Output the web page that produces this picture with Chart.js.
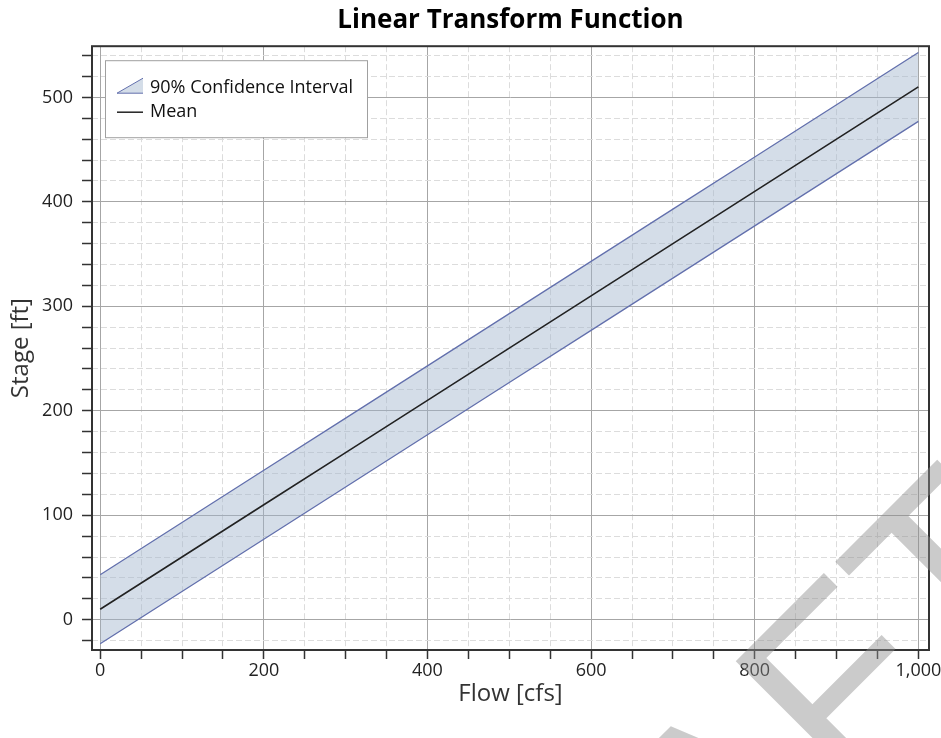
<!DOCTYPE html>
<html>
<head>
<meta charset="utf-8">
<title>Linear Transform Function</title>
<script src="https://cdn.jsdelivr.net/npm/chart.js@4.4.1/dist/chart.umd.min.js"></script>
<style>
  html, body { margin: 0; padding: 0; background: #fff; }
  #wrap { width: 941px; height: 738px; }
</style>
</head>
<body>
<div id="wrap"><canvas id="chart"></canvas></div>
<script>
// Values
const flow = [0, 100, 200, 300, 400, 500, 600, 700, 800, 900, 1000];
const meanStage = [10, 60, 110, 160, 210, 260, 310, 360, 410, 460, 510];
const upperStage = [43, 93, 143, 193, 243, 293, 343, 393, 443, 493, 543];
const lowerStage = [-23, 27, 77, 127, 177, 227, 277, 327, 377, 427, 477];

// Axis ticks: labelled majors, unlabelled dashed minors in between
const xMajorTicks = [0, 200, 400, 600, 800, 1000];
const yMajorTicks = [0, 100, 200, 300, 400, 500];
const xMinorStep = 50;
const yMinorStep = 20;

const FONT = 'Open Sans';
const colors = {
  band: 'rgba(160, 180, 205, 0.45)',
  bandEdge: '#6370ad',
  mean: '#222222',
  major: '#a6a6a6',
  minor: '#dcdcdc',
  axis: '#333333',
  text: '#222222'
};

function tickRange(from, to, step) {
  const out = [];
  for (let v = from; v <= to; v += step) out.push({ value: v });
  return out;
}

const isMajor = (list, c) => c.tick && list.includes(c.tick.value);
const minorDash = list => c => (c.tick && !list.includes(c.tick.value)) ? [6, 3] : [];

const points = ys => flow.map((x, i) => ({ x: x, y: ys[i] }));

// Plot frame, the boxed legend inside the plot and the DRAFT watermark
const decorations = {
  id: 'decorations',
  afterDatasetsDraw(chart) {
    const { ctx, chartArea: a } = chart;
    ctx.save();

    // frame around the plot area
    ctx.strokeStyle = colors.axis;
    ctx.lineWidth = 2;
    ctx.strokeRect(a.left, a.top, a.right - a.left, a.bottom - a.top);

    // legend
    const lx = a.left + 13, ly = a.top + 14;
    ctx.fillStyle = '#fff';
    ctx.fillRect(lx, ly, 262, 77);
    ctx.strokeStyle = '#a0a0a0';
    ctx.lineWidth = 1;
    ctx.strokeRect(lx + 0.5, ly + 0.5, 262, 77);

    const ix = lx + 12, iw = 26;
    const row1 = ly + 28, row2 = ly + 52;
    ctx.beginPath();
    ctx.moveTo(ix, row1 + 5);
    ctx.lineTo(ix + iw, row1 + 5);
    ctx.lineTo(ix + iw, row1 - 10);
    ctx.closePath();
    ctx.fillStyle = colors.band;
    ctx.fill();
    ctx.strokeStyle = colors.bandEdge;
    ctx.beginPath();
    ctx.moveTo(ix, row1 + 5);
    ctx.lineTo(ix + iw, row1 + 5);
    ctx.moveTo(ix, row1 + 5);
    ctx.lineTo(ix + iw, row1 - 10);
    ctx.stroke();

    ctx.strokeStyle = colors.mean;
    ctx.lineWidth = 1.5;
    ctx.beginPath();
    ctx.moveTo(ix, row2);
    ctx.lineTo(ix + iw, row2);
    ctx.stroke();

    ctx.fillStyle = '#111';
    ctx.font = '18px "' + FONT + '"';
    ctx.textBaseline = 'middle';
    ctx.fillText(chart.data.datasets[0].label, ix + iw + 7, row1);
    ctx.fillText(chart.data.datasets[2].label, ix + iw + 7, row2);
    ctx.restore();
  },
  afterDraw(chart) {
    const { ctx } = chart;
    ctx.save();
    ctx.font = '255px "Liberation Sans"';
    ctx.fillStyle = 'rgba(140, 140, 140, 0.45)';
    ctx.translate(845, 800);
    ctx.rotate(-Math.PI / 4);
    ctx.fillText('DRAFT', -ctx.measureText('DRA').width, 0);
    ctx.restore();
  }
};

new Chart(document.getElementById('chart'), {
  type: 'line',
  data: {
    datasets: [
      {
        label: '90% Confidence Interval',
        data: points(upperStage),
        borderColor: colors.bandEdge,
        borderWidth: 1.3,
        backgroundColor: colors.band,
        fill: '+1'
      },
      {
        label: 'lower',
        data: points(lowerStage),
        borderColor: colors.bandEdge,
        borderWidth: 1.3,
        fill: false
      },
      {
        label: 'Mean',
        data: points(meanStage),
        borderColor: colors.mean,
        borderWidth: 1.6,
        fill: false
      }
    ]
  },
  options: {
    responsive: true,
    maintainAspectRatio: false,
    animation: false,
    elements: { point: { radius: 0 }, line: { tension: 0 } },
    layout: { padding: { left: 0, right: 12, top: 0, bottom: 0 } },
    plugins: {
      legend: { display: false },
      tooltip: { enabled: false },
      filler: { drawTime: 'beforeDatasetsDraw' },
      title: {
        display: true,
        fullSize: false,
        text: 'Linear Transform Function',
        color: '#000',
        font: { family: FONT, size: 26, weight: 'bold' },
        padding: { top: 5, bottom: 10 }
      }
    },
    scales: {
      x: {
        type: 'linear',
        min: -10,
        max: 1013,
        afterBuildTicks: s => { s.ticks = tickRange(0, 1000, xMinorStep); },
        afterFit: s => { s.height = 88; s.paddingLeft = 0; s.paddingRight = 0; },
        grid: {
          color: c => isMajor(xMajorTicks, c) ? colors.major : colors.minor,
          lineWidth: 1,
          tickLength: 9,
          tickColor: colors.axis,
          tickWidth: 1.5
        },
        border: { display: false, dash: minorDash(xMajorTicks) },
        ticks: {
          autoSkip: false,
          maxRotation: 0,
          padding: 1,
          color: colors.text,
          font: { family: FONT, size: 18 },
          callback: v => xMajorTicks.includes(v) ? v.toLocaleString('en-US') : ''
        },
        title: {
          display: true,
          text: 'Flow [cfs]',
          color: '#333',
          font: { family: FONT, size: 24 },
          padding: { top: 4, bottom: 29 }
        }
      },
      y: {
        type: 'linear',
        min: -29,
        max: 549,
        afterBuildTicks: s => { s.ticks = tickRange(-20, 540, yMinorStep); },
        afterFit: s => { s.width = 92; s.paddingTop = 0; s.paddingBottom = 0; },
        grid: {
          color: c => isMajor(yMajorTicks, c) ? colors.major : colors.minor,
          lineWidth: 1,
          tickLength: 10,
          tickColor: colors.axis,
          tickWidth: 1.5
        },
        border: { display: false, dash: minorDash(yMajorTicks) },
        ticks: {
          autoSkip: false,
          padding: 9,
          color: colors.text,
          font: { family: FONT, size: 18 },
          callback: v => yMajorTicks.includes(v) ? String(v) : ''
        },
        title: {
          display: true,
          text: 'Stage [ft]',
          color: '#333',
          font: { family: FONT, size: 24 },
          padding: { top: 7, bottom: 4 }
        }
      }
    }
  },
  plugins: [decorations]
});
</script>
</body>
</html>
